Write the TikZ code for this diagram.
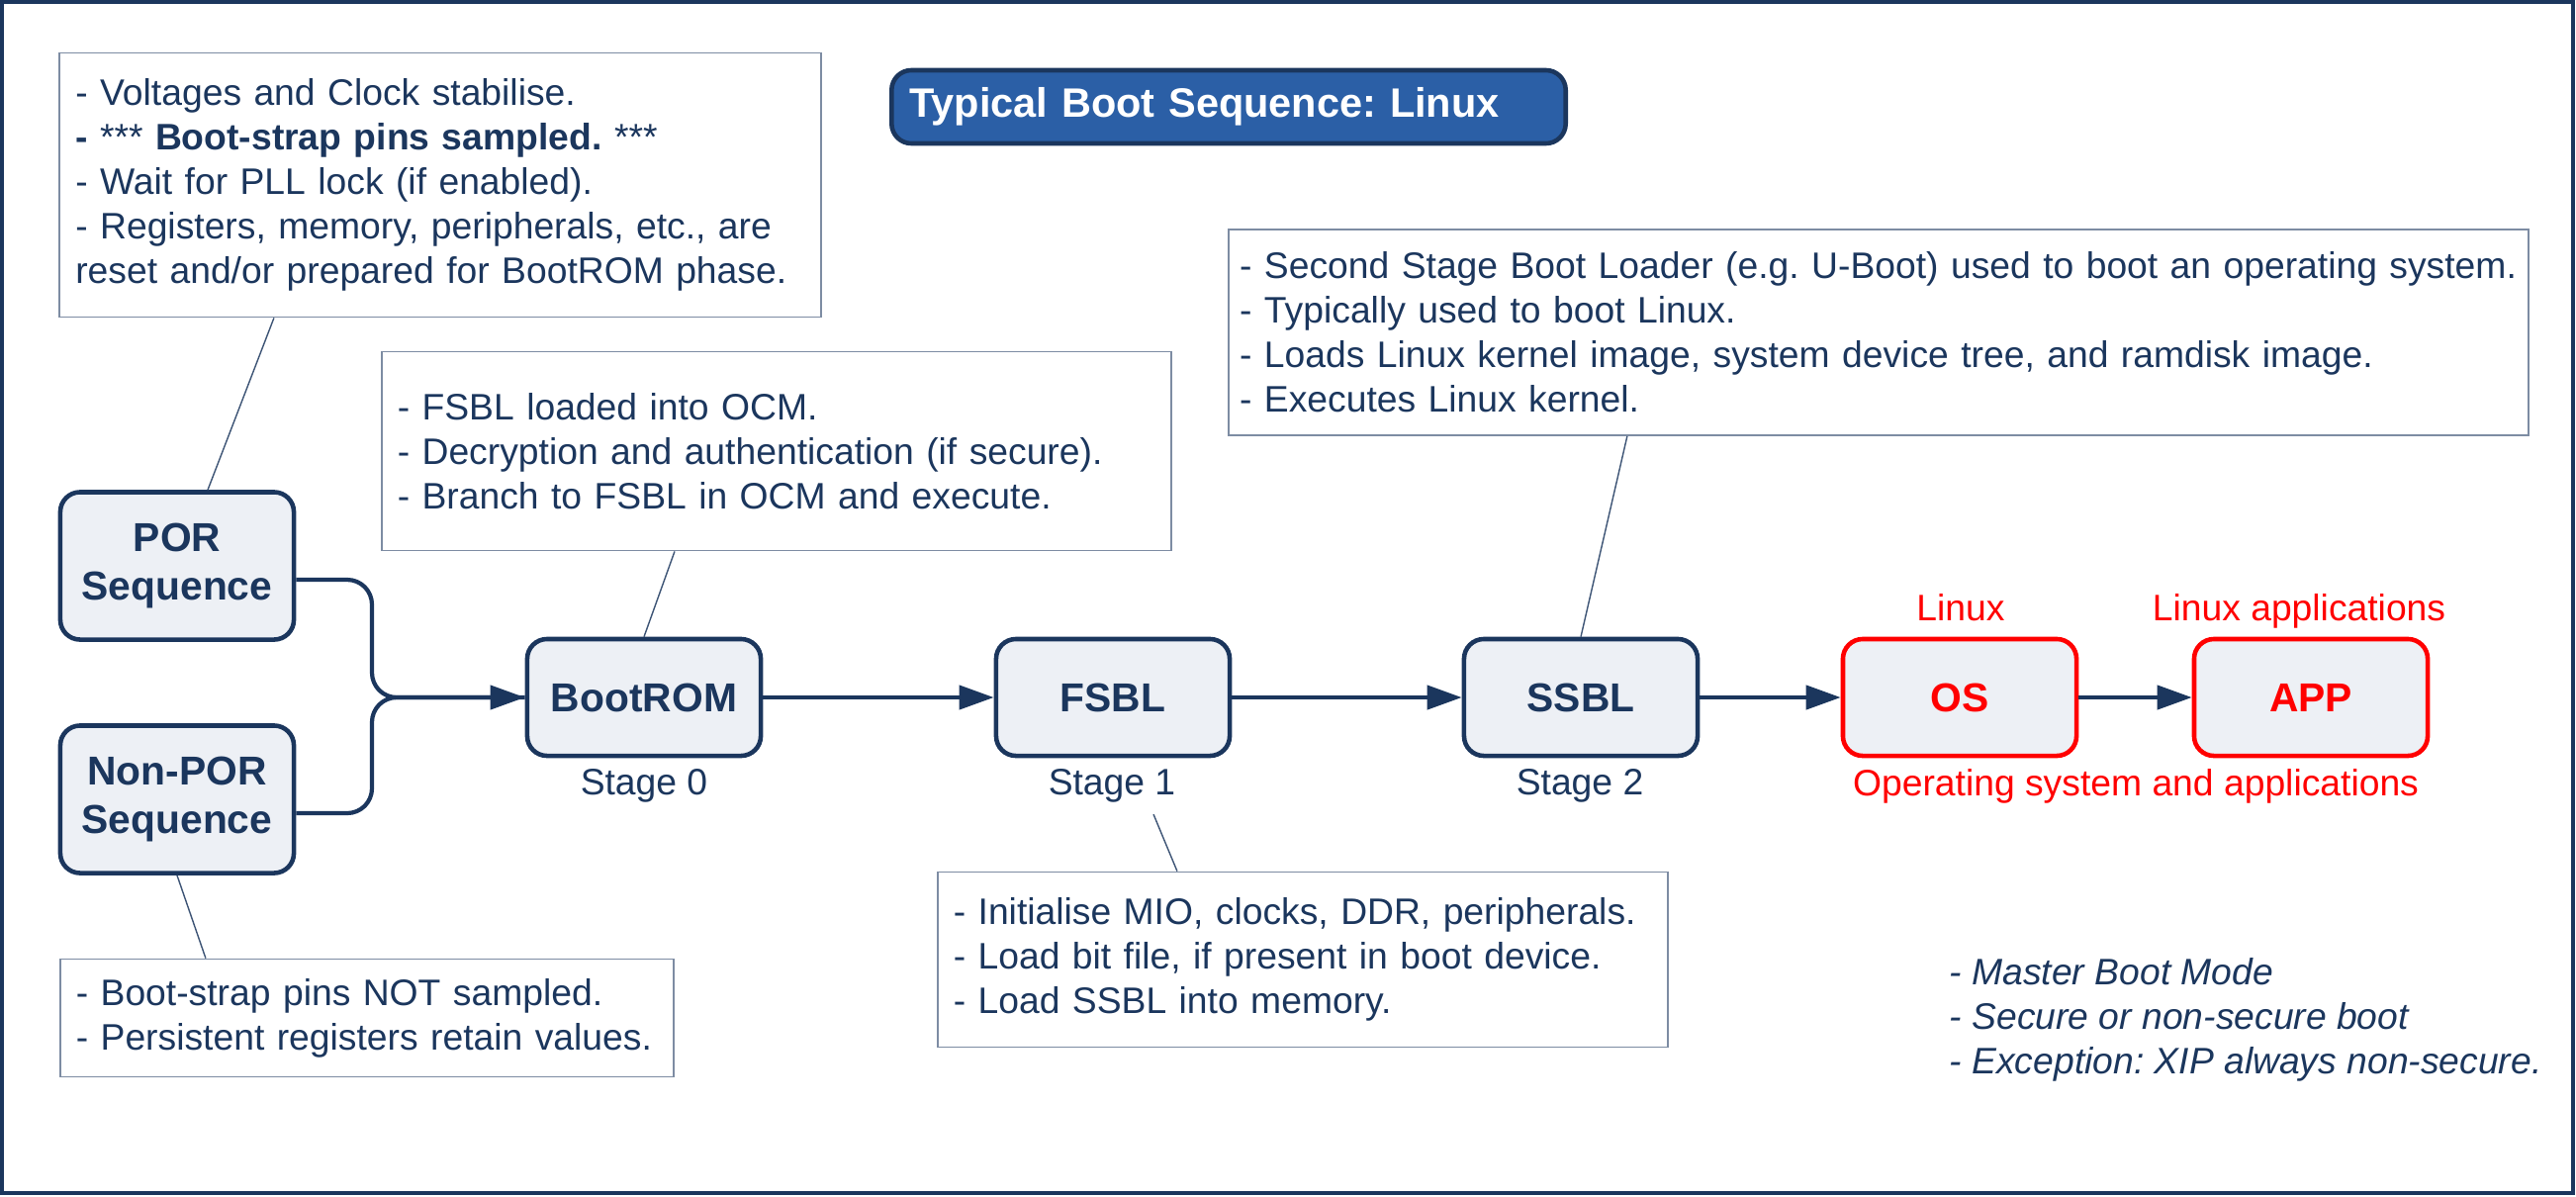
\documentclass[tikz,border=0pt]{standalone}
\usepackage{fontspec}
\setmainfont{Liberation Sans}
\usetikzlibrary{arrows.meta}
\definecolor{navy}{HTML}{1B365D}
\definecolor{boxfill}{HTML}{EDF0F5}
\definecolor{notegray}{HTML}{7D8CA3}
\definecolor{titleblue}{HTML}{2B5FA6}
\frenchspacing

\begin{document}
\begin{tikzpicture}[x=0.01cm, y=-0.01cm,
  stagebox/.style={draw=navy, line width=1.3pt, fill=boxfill, rounded corners=0.2cm,
    minimum width=2.36cm, minimum height=1.18cm, align=center, text=navy,
    font=\fontsize{11.6}{14}\selectfont\bfseries},
  redbox/.style={stagebox, draw=red, text=red},
  note/.style={draw=notegray, line width=0.5pt, text=navy, align=left,
    inner xsep=0.16cm, font=\fontsize{10.6}{12.8}\selectfont},
  stagetext/.style={text=navy, anchor=base, font=\fontsize{10.6}{12.8}\selectfont},
  flow/.style={draw=navy, line width=1.2pt, -{Triangle[length=0.35cm,width=0.24cm]}},
  leader/.style={draw=navy!85, line width=0.4pt}]
\useasboundingbox (0,0) rectangle (2604,1209);
\draw[navy, line width=0.9pt] (2,2) rectangle (2601,1206);

\node[draw=navy, line width=1.3pt, fill=titleblue, rounded corners=0.2cm, text=white,
  font=\fontsize{11.8}{14}\selectfont\bfseries, align=left, text width=6.45cm,
  inner xsep=0.18cm, minimum height=0.74cm] (title) at (1242,108)
  {Typical Boot Sequence: Linux};

\node[stagebox, minimum height=1.49cm] (por) at (179,572) {POR\\Sequence};
\node[stagebox, minimum height=1.49cm] (nonpor) at (179,808) {Non-POR\\Sequence};
\foreach \name/\x/\txt in {bootrom/651/BootROM, fsbl/1125/FSBL, ssbl/1598/SSBL} {
  \node[stagebox] (\name) at (\x,705) {\txt};
}
\node[redbox] (os) at (1981,705) {OS};
\node[redbox] (app) at (2336,705) {APP};

\foreach \x/\k in {651/0, 1124/1, 1597/2} {
  \node[stagetext] (stage\k) at (\x,803) {Stage \k};
}
\node[stagetext, text=red] (oslabel) at (1982,627) {Linux};
\node[stagetext, text=red] (applabel) at (2324,627) {Linux applications};
\node[stagetext, text=red] (osapp) at (2159,804) {Operating system and applications};

\coordinate (merge) at (376,705);
\draw[navy, line width=1.2pt, rounded corners=0.25cm] ([yshift=-0.14cm]nonpor.east) -| (merge) -- (bootrom.west);
\draw[flow, rounded corners=0.25cm] ([yshift=-0.14cm]por.east) -| (merge) -- (bootrom.west);
\foreach \a/\b in {bootrom/fsbl, fsbl/ssbl, ssbl/os, os/app} {
  \draw[flow] (\a) -- (\b);
}

\node[note, text width=7.37cm, minimum height=2.67cm] (pornote) at (445,187)
  {- Voltages and Clock stabilise.\\
   \textbf{-} *** \textbf{Boot-strap pins sampled.} ***\\
   - Wait for PLL lock (if enabled).\\
   - Registers, memory, peripherals, etc., are\\
   reset and/or prepared for BootROM phase.};
\node[note, text width=7.66cm, minimum height=2.01cm] (bootnote) at (785,456)
  {- FSBL loaded into OCM.\\
   - Decryption and authentication (if secure).\\
   - Branch to FSBL in OCM and execute.};
\node[note, text width=12.91cm, inner xsep=0.11cm, minimum height=2.08cm] (ssblnote) at (1899,336)
  {- Second Stage Boot Loader (e.g. U-Boot) used to boot an operating system.\\
   - Typically used to boot Linux.\\
   - Loads Linux kernel image, system device tree, and ramdisk image.\\
   - Executes Linux kernel.};
\node[note, text width=7.06cm, minimum height=1.77cm] (fsblnote) at (1317,970)
  {- Initialise MIO, clocks, DDR, peripherals.\\
   - Load bit file, if present in boot device.\\
   - Load SSBL into memory.};
\node[note, text width=5.88cm, minimum height=1.19cm] (nonpornote) at (371,1029)
  {- Boot-strap pins NOT sampled.\\
   - Persistent registers retain values.};

\draw[leader] ([xshift=-1.68cm]pornote.south) -- ([xshift=0.31cm]por.north);
\draw[leader] ([xshift=-1.03cm]bootnote.south) -- (bootrom.north);
\draw[leader] ([xshift=-2.54cm]ssblnote.south) -- (ssbl.north);
\draw[leader] ([xshift=0.42cm]stage1.south) -- ([xshift=-1.27cm]fsblnote.north);
\draw[leader] (nonpor.south) -- ([xshift=-1.63cm]nonpornote.north);

\node[anchor=west, inner sep=0pt, text=navy, align=left,
  font=\fontsize{10.6}{12.8}\selectfont\itshape] (modes) at (1970,1031)
  {- Master Boot Mode\\
   - Secure or non-secure boot\\
   - Exception: XIP always non-secure.};
\end{tikzpicture}
\end{document}
